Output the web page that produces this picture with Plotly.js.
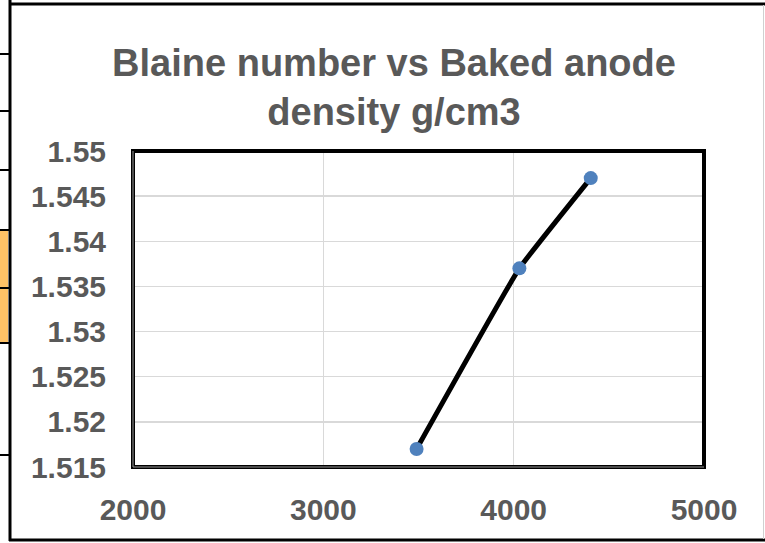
<!DOCTYPE html>
<html>
<head>
<meta charset="utf-8">
<script src="https://cdn.plot.ly/plotly-3.0.1.min.js"></script>
<style>
html,body{margin:0;padding:0;background:#fff;}
#chart{width:765px;height:543px;}
</style>
</head>
<body>
<div id="chart"></div>
<script>
// Data
const blaineNumber = [3490, 4030, 4405];
const bakedDensity = [1.517, 1.537, 1.547];
const xTicks = [2000, 3000, 4000, 5000];
const yTicks = [1.515, 1.52, 1.525, 1.53, 1.535, 1.54, 1.545, 1.55];
const yTickText = ['1.515', '1.52', '1.525', '1.53', '1.535', '1.54', '1.545', '1.55'];
const titleText = 'Blaine number vs Baked anode<br>density g/cm3';

const W = 765, H = 543;
const M = {l: 133, r: 61, t: 151, b: 76};
const PW = W - M.l - M.r, PH = H - M.t - M.b;
const px = v => (v - M.l) / PW;
const py = v => (H - M.b - v) / PH;

const grey = '#595959';
const shapes = [];
// outer sheet decorations (cell borders at far left, chart border)
const cellLines = [54, 111, 170, 230, 288, 343, 455];
shapes.push({type:'rect', xref:'paper', yref:'paper', x0:px(0), x1:px(8), y0:py(230), y1:py(343),
  fillcolor:'#FFC266', line:{width:0}, layer:'below'});
cellLines.forEach(v => shapes.push({type:'line', xref:'paper', yref:'paper', x0:px(0), x1:px(9), y0:py(v), y1:py(v),
  line:{color:'#000', width:2}}));
shapes.push({type:'line', xref:'paper', yref:'paper', x0:px(10), x1:px(10), y0:py(0), y1:py(541), line:{color:'#000', width:3}});
shapes.push({type:'line', xref:'paper', yref:'paper', x0:px(9), x1:px(765), y0:py(4), y1:py(4), line:{color:'#000', width:3}});
shapes.push({type:'line', xref:'paper', yref:'paper', x0:px(9), x1:px(765), y0:py(540), y1:py(540), line:{color:'#000', width:3}});
shapes.push({type:'line', xref:'paper', yref:'paper', x0:px(763.5), x1:px(763.5), y0:py(5), y1:py(539), line:{color:'#d0d0d0', width:1}});
// plot area frame
shapes.push({type:'rect', xref:'paper', yref:'paper', x0:0, x1:1, y0:0, y1:1, line:{color:'#000', width:4}});
shapes.push({type:'line', xref:'paper', yref:'paper', x0:0, x1:0, y0:0, y1:1, line:{color:'#9a9a9a', width:1}});
shapes.push({type:'line', xref:'paper', yref:'paper', x0:0, x1:1, y0:0, y1:0, line:{color:'#9a9a9a', width:1}});

const trace = {
  x: blaineNumber, y: bakedDensity, type:'scatter', mode:'lines+markers',
  line:{color:'#000', width:5, shape:'spline', smoothing:0.3},
  marker:{color:'#4F81BD', size:14},
  hoverinfo:'none', cliponaxis:false
};

const layout = {
  width: W, height: H,
  margin: M,
  paper_bgcolor:'#fff', plot_bgcolor:'#fff',
  showlegend:false,
  font:{family:'"Liberation Sans", Arial, sans-serif', color:grey},
  title:{text:titleText, font:{family:'"Liberation Sans", Arial, sans-serif', size:38, color:grey, weight:'bold'},
    x:394/W, xref:'container', xanchor:'center', y:1-76/H, yref:'container', yanchor:'top'},
  xaxis:{range:[2000,5000], tickvals:xTicks, ticktext:xTicks.map(String), showgrid:true, gridcolor:'#d9d9d9', gridwidth:1.5,
    zeroline:false, showline:false, ticks:'', ticklabelstandoff:22,
    tickfont:{size:30, color:grey, weight:'bold'}},
  yaxis:{range:[1.515,1.55], tickvals:yTicks, ticktext:yTickText, showgrid:true, gridcolor:'#d9d9d9', gridwidth:1.5,
    zeroline:false, showline:false, ticks:'', ticklabelstandoff:26,
    tickfont:{size:30, color:grey, weight:'bold'}},
  shapes: shapes
};

Plotly.newPlot('chart', [trace], layout, {displayModeBar:false, staticPlot:true});
</script>
</body>
</html>
